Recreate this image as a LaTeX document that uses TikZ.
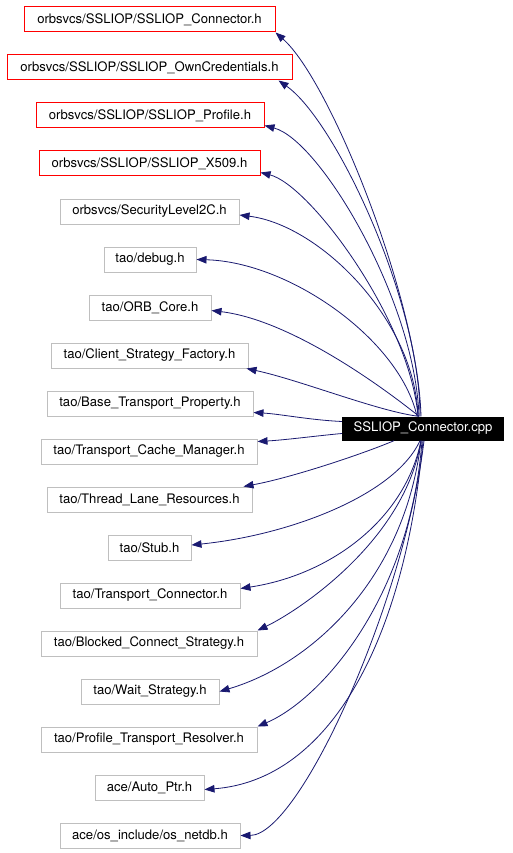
\documentclass[tikz,border=0pt]{standalone}
\usepackage{fontspec}
\setmainfont{TeX Gyre Heros}
\usetikzlibrary{arrows.meta}
\definecolor{edgeblue}{RGB}{25,25,112}
\definecolor{boxgray}{RGB}{191,191,191}
\begin{document}
\begin{tikzpicture}[x=1pt,y=-1pt,
  box/.style={draw=boxgray,line width=1pt,minimum height=25pt,inner sep=0pt,font=\fontsize{13.1}{15}\selectfont,fill=white},
  redbox/.style={box,draw=red},
  mainbox/.style={fill=black,text=white,minimum height=24pt,minimum width=162pt,inner sep=0pt,font=\fontsize{13.1}{15}\selectfont},
  edge/.style={draw=edgeblue,line width=0.8pt,-{Triangle[length=10pt,width=7.5pt]}}]
\useasboundingbox (0,0) rectangle (512,853);
\fill[white] (0,0) rectangle (512,853);
\node[redbox,minimum width=251pt] (b1) at (149.5,19.5) {orbsvcs/SSLIOP/SSLIOP\_Connector.h};
\node[redbox,minimum width=285pt] (b2) at (149.5,67.5) {orbsvcs/SSLIOP/SSLIOP\_OwnCredentials.h};
\node[redbox,minimum width=228pt] (b3) at (150,115.5) {orbsvcs/SSLIOP/SSLIOP\_Profile.h};
\node[redbox,minimum width=221pt] (b4) at (149.5,163.5) {orbsvcs/SSLIOP/SSLIOP\_X509.h};
\node[box,minimum width=179pt] (b5) at (149.5,211.5) {orbsvcs/SecurityLevel2C.h};
\node[box,minimum width=92pt] (b6) at (150,259.5) {tao/debug.h};
\node[box,minimum width=122pt] (b7) at (150,307.5) {tao/ORB\_Core.h};
\node[box,minimum width=197pt] (b8) at (149.5,355.5) {tao/Client\_Strategy\_Factory.h};
\node[box,minimum width=206pt] (b9) at (150,403.5) {tao/Base\_Transport\_Property.h};
\node[box,minimum width=216pt] (b10) at (149,451.5) {tao/Transport\_Cache\_Manager.h};
\node[box,minimum width=205pt] (b11) at (149.5,499.5) {tao/Thread\_Lane\_Resources.h};
\node[box,minimum width=83pt] (b12) at (149.5,547.5) {tao/Stub.h};
\node[box,minimum width=180pt] (b13) at (150,595.5) {tao/Transport\_Connector.h};
\node[box,minimum width=216pt] (b14) at (149,643.5) {tao/Blocked\_Connect\_Strategy.h};
\node[box,minimum width=138pt] (b15) at (150,691.5) {tao/Wait\_Strategy.h};
\node[box,minimum width=216pt] (b16) at (149,739.5) {tao/Profile\_Transport\_Resolver.h};
\node[box,minimum width=109pt] (b17) at (149.5,787.5) {ace/Auto\_Ptr.h};
\node[box,minimum width=180pt] (b18) at (150,835.5) {ace/os\_include/os\_netdb.h};
\node[mainbox] (m) at (423,428.5) {SSLIOP\_Connector.cpp};
% upper edges
\draw[edge] ([xshift=-2pt]m.north) .. controls (418,300) and (330,80) .. (b1.south east);
\draw[edge] ([xshift=-3pt]m.north) .. controls (420,300) and (335,120) .. ([xshift=-14pt]b2.south east);
\draw[edge] ([xshift=-4pt]m.north) .. controls (415,300) and (320,140) .. ([yshift=3pt]b3.south east);
\draw[edge] ([xshift=-5pt]m.north) .. controls (410,320) and (310,185) .. ([yshift=4pt]b4.south east);
\draw[edge] ([xshift=-5pt]m.north) .. controls (415,320) and (320,225) .. ([yshift=-3.5pt]b5.east);
\draw[edge] ([xshift=-6pt]m.north) .. controls (400,340) and (290,262) .. (b6.east);
\draw[edge] ([xshift=-4pt]m.north) .. controls (380,385) and (290,320) .. ([yshift=-3pt]b7.east);
\draw[edge] ([xshift=-4pt]m.north) .. controls (380,412) and (300,380) .. ([xshift=-2pt]b8.south east);
\draw[edge] ([yshift=7pt]m.west) .. controls (310,420) and (280,414) .. ([yshift=-9pt]b9.east);
\draw[edge] ([yshift=-5pt]m.west) .. controls (315,436) and (285,440) .. ([yshift=10pt]b10.east);
% lower edges
\draw[edge] ([xshift=-29pt]m.south) .. controls (360,455) and (290,478) .. ([xshift=-9pt]b11.north east);
\draw[edge] ([xshift=-3pt]m.south) .. controls (395,495) and (290,535) .. ([yshift=2.5pt]b12.east);
\draw[edge] ([xshift=-2pt]m.south) .. controls (405,520) and (330,575) .. ([yshift=7pt]b13.east);
\draw[edge] ([xshift=-2pt]m.south) .. controls (405,540) and (300,610) .. (b14.north east);
\draw[edge] ([xshift=-2pt]m.south) .. controls (405,580) and (310,665) .. (b15.east);
\draw[edge] ([xshift=-1pt]m.south) .. controls (410,600) and (320,700) .. (b16.north east);
\draw[edge] (m.south) .. controls (405,640) and (330,780) .. ([yshift=-2pt]b17.east);
\draw[edge] ([xshift=1pt]m.south) .. controls (405,600) and (300,835) .. (b18.east);
\end{tikzpicture}
\end{document}
